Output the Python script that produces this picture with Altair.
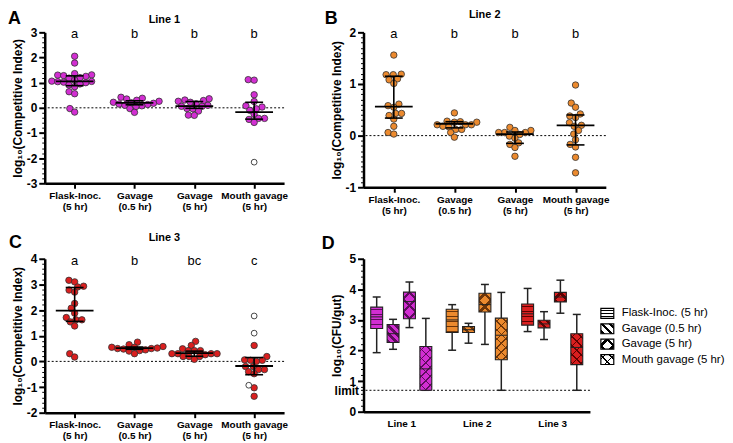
import json
import math
import altair as alt
import pandas as pd

FONT = "Liberation Sans"

# ---------------- data ----------------
cond_labels = ["Flask-Inoc.\n(5 hr)", "Gavage\n(0.5 hr)", "Gavage\n(5 hr)", "Mouth gavage\n(5 hr)"]
legend_labels = ["Flask-Inoc. (5 hr)", "Gavage (0.5 hr)", "Gavage (5 hr)", "Mouth gavage (5 hr)"]
line_labels = ["Line 1", "Line 2", "Line 3"]

# Panel A (Line 1)
a_flask = [2.05, 1.78, 1.36, 1.31, 1.30, 1.28, 1.25, 1.20, 1.18, 1.10, 1.06, 1.05, 1.04, 1.02, 1.00, 0.95, 0.91, 0.84, 0.64, 0.56, -0.03, -0.17]
a_gav05 = [0.42, 0.38, 0.35, 0.30, 0.26, 0.22, 0.20, 0.18, 0.15, 0.13, 0.10, 0.08, 0.05, -0.03, -0.18]
a_gav5 = [0.36, 0.31, 0.29, 0.26, 0.22, 0.16, 0.10, 0.06, 0.06, -0.03, -0.04, -0.13, -0.29, -0.30]
a_mouth = [1.12, 1.10, 0.52, 0.25, 0.08, 0.03, -0.04, -0.10, -0.26, -0.42, -0.42, -0.46, -0.58]
a_mouth_open = [-2.16]
a_med = [1.05, 0.20, 0.07, -0.17]
a_q1 = [0.88, 0.12, -0.02, -0.45]
a_q3 = [1.27, 0.28, 0.25, 0.22]
a_letters = ["a", "b", "b", "b"]

# Panel B (Line 2)
b_flask = [1.56, 1.19, 1.18, 1.18, 1.10, 1.08, 1.01, 0.61, 0.58, 0.55, 0.43, 0.43, 0.39, 0.32, 0.18, 0.06, 0.03]
b_gav05 = [0.44, 0.28, 0.27, 0.26, 0.26, 0.21, 0.21, 0.21, 0.18, 0.17, 0.12, 0.12, 0.06, -0.03]
b_gav5 = [0.16, 0.10, 0.10, 0.06, 0.06, 0.06, 0.02, -0.01, -0.05, -0.14, -0.17, -0.23, -0.40]
b_mouth = [0.98, 0.63, 0.55, 0.42, 0.38, 0.35, 0.25, 0.20, 0.18, 0.10, 0.03, -0.08, -0.17, -0.22, -0.42, -0.72]
b_med = [0.56, 0.23, 0.03, 0.20]
b_q1 = [0.34, 0.15, -0.15, -0.18]
b_q3 = [1.15, 0.27, 0.07, 0.40]
b_letters = ["a", "b", "b", "b"]

# Panel C (Line 3)
c_flask = [3.16, 3.10, 2.93, 2.90, 2.78, 2.70, 2.26, 2.07, 1.88, 1.71, 1.62, 1.62, 1.54, 1.38, 0.30, 0.17]
c_gav05 = [0.75, 0.65, 0.58, 0.55, 0.55, 0.52, 0.50, 0.50, 0.48, 0.45, 0.42, 0.40, 0.30]
c_gav5 = [0.78, 0.62, 0.49, 0.42, 0.42, 0.42, 0.30, 0.30, 0.30, 0.30, 0.26, 0.19, 0.19, 0.19, 0.08]
c_mouth = [0.62, 0.19, 0.06, 0.04, 0.04, 0.00, -0.20, -0.20, -0.32, -0.32, -0.40, -0.48, -1.03, -1.36]
c_mouth_open = [1.77, 1.10, -0.93]
c_med = [1.98, 0.52, 0.32, -0.18]
c_q1 = [1.56, 0.47, 0.20, -0.52]
c_q3 = [2.88, 0.56, 0.40, 0.15]
c_letters = ["a", "b", "bc", "c"]

# Panel D box plots: [min, q1, median, q3, max] per line x condition
d_line1 = [[1.93, 2.72, 3.10, 3.42, 3.75], [2.04, 2.26, 2.55, 2.85, 3.02],
           [2.75, 3.04, 3.60, 3.91, 4.24], [0.70, 0.70, 1.40, 2.13, 3.05]]
d_line2 = [[2.01, 2.59, 3.00, 3.35, 3.50], [2.24, 2.59, 2.68, 2.78, 2.89],
           [2.20, 3.26, 3.50, 3.87, 4.16], [0.70, 1.70, 2.50, 3.06, 3.90]]
d_line3 = [[2.62, 2.83, 3.20, 3.52, 4.03], [2.36, 2.74, 2.87, 2.99, 3.27],
           [3.22, 3.59, 3.75, 3.90, 4.30], [0.70, 1.54, 2.10, 2.55, 3.18]]
detection_limit = 0.7

# ---------------- styles ----------------
COLORS = ["#D22ED2", "#EC8A2E", "#DA1F1F"]
DARKS = ["#5E0C5E", "#6E3508", "#5E0000"]
DOT = 6.0          # dot spacing in px for the swarm (dots may overlap slightly)
MED_HALF = 19      # median bar half width px
CAP_HALF = 9       # error cap half width px
MINOR = "abs(datum.value - round(datum.value)) > 0.001"


def swarm(vals, ppu, d):
    order = sorted(range(len(vals)), key=lambda i: vals[i])
    placed, offs = [], [0.0] * len(vals)
    for i in order:
        y = vals[i] * ppu
        forb = []
        for px, py in placed:
            dy = abs(py - y)
            if dy < d:
                dx = math.sqrt(d * d - dy * dy)
                forb.append((px - dx, px + dx))
        cands = [0.0] + [a for a, _ in forb] + [b for _, b in forb]
        cands.sort(key=lambda c: (round(abs(c), 6), c))
        chosen = 0.0
        for c in cands:
            if all(not (a + 1e-6 < c < b - 1e-6) for a, b in forb):
                chosen = c
                break
        offs[i] = chosen
        placed.append((chosen, y))
    return offs


def tick_values(lo, hi, step, extra=()):
    n = int(round((hi - lo) / step))
    vals = [round(lo + i * step, 4) for i in range(n + 1)]
    return sorted(set(vals) | set(extra))


def y_axis(title, lo, hi, step, label_expr=None, extra=(), title_x=None):
    if label_expr is None:
        label_expr = f"{MINOR.replace('>', '<=')} ? '' + round(datum.value) : ''"
    kw = {}
    if title_x is not None:
        kw["titleX"] = title_x
    return alt.Axis(
        title=title, values=tick_values(lo, hi, step, extra), labelExpr=label_expr,
        tickSize={"condition": {"test": MINOR, "value": 3}, "value": 6},
        tickWidth={"condition": {"test": MINOR, "value": 1}, "value": 2},
        labelFontSize=12, titleFontSize=12, labelOverlap=False, labelFlush=False,
        titlePadding=2, labelPadding=2, **kw,
    )


def txt(text, x, y, size, weight="normal", align="center"):
    return alt.Chart(pd.DataFrame({"t": [text]})).mark_text(
        fontSize=size, fontWeight=weight, align=align, baseline="middle", color="black"
    ).encode(text="t:N", x=alt.value(x), y=alt.value(y))


def scatter_panel(groups, opens, med, q1, q3, letters, color, ydom, ystep, width, height,
                  title, title_y, plet, plet_xy):
    ppu_y = height / (ydom[1] - ydom[0])
    ppu_x = width / 4.0
    rows = []
    for i, (vals, ov) in enumerate(zip(groups, opens)):
        allv = list(vals) + list(ov)
        offs = swarm(allv, ppu_y, DOT)
        for j, v in enumerate(allv):
            rows.append({"idx": i, "x": i + offs[j] / ppu_x, "y": v, "open": j >= len(vals)})
    dfp = pd.DataFrame(rows)
    dfs = pd.DataFrame({"idx": list(range(4)), "med": med, "q1": q1, "q3": q3, "letter": letters})
    dfs["xl"] = dfs["idx"] - MED_HALF / ppu_x
    dfs["xr"] = dfs["idx"] + MED_HALF / ppu_x
    dfs["cl"] = dfs["idx"] - CAP_HALF / ppu_x
    dfs["cr"] = dfs["idx"] + CAP_HALF / ppu_x

    xs = alt.Scale(domain=[-0.5, 3.5], nice=False, zero=False)
    ys = alt.Scale(domain=ydom, nice=False, zero=False)
    cats = json.dumps([c.split("\n") for c in cond_labels])
    xa = alt.Axis(title=None, values=[0, 1, 2, 3], labelExpr=f"{cats}[round(datum.value)]",
                  tickSize=5, tickWidth=2, labelFontSize=10, labelLineHeight=11,
                  labelPadding=2, labelFlush=False, labelOverlap=False)
    ya = y_axis("log\u2081\u2080(Competitive Index)", ydom[0], ydom[1], ystep)

    def X(f):
        return alt.X(f, scale=xs, axis=xa)

    def Y(f):
        return alt.Y(f, scale=ys, axis=ya)

    zero = alt.Chart(pd.DataFrame({"z": [0.0]})).mark_rule(
        color="black", strokeDash=[2, 2], strokeWidth=1).encode(y=Y("z:Q"))
    filled = alt.Chart(dfp).transform_filter("!datum.open").mark_circle(
        size=42, color=color, stroke="#333333", strokeWidth=0.8, opacity=1
    ).encode(x=X("x:Q"), y=Y("y:Q"))
    hollow = alt.Chart(dfp).transform_filter("datum.open").mark_circle(
        size=34, fill="white", stroke="#333333", strokeWidth=0.9, opacity=1
    ).encode(x=X("x:Q"), y=Y("y:Q"))
    base = alt.Chart(dfs)
    med_r = base.mark_rule(color="black", strokeWidth=1.8).encode(
        x=X("xl:Q"), x2="xr:Q", y=Y("med:Q"))
    vert = base.mark_rule(color="black", strokeWidth=1.6).encode(
        x=X("idx:Q"), y=Y("q1:Q"), y2="q3:Q")
    cap1 = base.mark_rule(color="black", strokeWidth=1.6).encode(
        x=X("cl:Q"), x2="cr:Q", y=Y("q1:Q"))
    cap2 = base.mark_rule(color="black", strokeWidth=1.6).encode(
        x=X("cl:Q"), x2="cr:Q", y=Y("q3:Q"))
    lets = base.mark_text(fontSize=13, baseline="middle", color="black").encode(
        x=X("idx:Q"), y=alt.value(2), text="letter:N")
    return alt.layer(
        zero, filled, hollow, med_r, vert, cap1, cap2, lets,
        txt(title, width / 2, title_y, 11, "bold"),
        txt(plet, plet_xy[0], plet_xy[1], 18, "bold", "left"),
    ).properties(width=width, height=height)


# ----- pattern fills (linear gradients with hard stops) -----
def stripe_stops(bg, fg, period_t, width_t):
    stops = [{"offset": 0, "color": bg}]
    c = period_t * 0.5
    while c - width_t / 2 < 1:
        a = max(0.0, c - width_t / 2)
        b = min(1.0, c + width_t / 2)
        stops += [{"offset": round(a, 4), "color": bg}, {"offset": round(a, 4), "color": fg},
                  {"offset": round(b, 4), "color": fg}, {"offset": round(b, 4), "color": bg}]
        c += period_t
    stops.append({"offset": 1, "color": bg})
    return stops


def grad_h(bg, fg, w, h, period, lw):
    return {"gradient": "linear", "stops": stripe_stops(bg, fg, period / h, lw / h),
            "x1": 0, "y1": 0, "x2": 0, "y2": 1}


def grad_d(bg, fg, w, h, period, lw, direction):
    a = w / h
    s = (w + h) / (h * (1 + a * a))
    L = w + h
    if direction == "/":
        x1, y1, x2, y2 = 0, 0, a * s, s
    else:
        x1, y1, x2, y2 = 1, 0, 1 - a * s, s
    return {"gradient": "linear", "stops": stripe_stops(bg, fg, period / L, lw / L),
            "x1": round(x1, 4), "y1": y1, "x2": round(x2, 4), "y2": round(y2, 4)}


def pattern_fills(cond, bg, fg, w, h, legend=False):
    """Return list of fills (first = base, rest = transparent overlays)."""
    clear = "rgba(0,0,0,0)"
    if cond == 0:
        return [grad_h(bg, fg, w, h, 3.3 if legend else 5.0, 1.1 if legend else 1.4)]
    if cond == 1:
        return [grad_d(bg, fg, w, h, 8.0, 3.5, "\\")]
    if cond == 2:
        return [grad_d(bg, fg, w, h, 13.0, 3.6, "/"), grad_d(clear, fg, w, h, 13.0, 3.6, "\\")]
    return [grad_d(bg, fg, w, h, 9.0, 1.6, "/"), grad_d(clear, fg, w, h, 9.0, 1.6, "\\")]


def box_panel(lines, width, height):
    ydom = [0, 5]
    ppu_y = height / 5.0
    ppu_x = width / 3.0
    offs_px = [-24.75, -8.25, 8.25, 24.75]
    box_half, cap_half = 6.0, 4.0
    rows = []
    for g, stats in enumerate(lines):
        for c, (lo, q1, md, q3, hi) in enumerate(stats):
            xc = g + offs_px[c] / ppu_x
            rows.append({"g": g, "c": c, "lo": lo, "q1": q1, "med": md, "q3": q3, "hi": hi,
                         "xc": xc, "xl": xc - box_half / ppu_x, "xr": xc + box_half / ppu_x,
                         "cl": xc - cap_half / ppu_x, "cr": xc + cap_half / ppu_x})
    df = pd.DataFrame(rows)
    xs = alt.Scale(domain=[-0.5, 2.5], nice=False, zero=False)
    ys = alt.Scale(domain=ydom, nice=False, zero=False)
    labs = json.dumps(line_labels)
    xa = alt.Axis(title=None, values=[0, 1, 2], labelExpr=f"{labs}[round(datum.value)]",
                  ticks=False, labelFontSize=10, labelPadding=7, labelFlush=False)
    lim_expr = (f"abs(datum.value - {detection_limit}) < 0.001 ? 'limit' : "
                f"({MINOR.replace('>', '<=')} ? '' + round(datum.value) : '')")
    ya = y_axis("log\u2081\u2080(CFU/gut)", 0, 5, 0.2, lim_expr, extra=[detection_limit],
                title_x=-20)

    def X(f):
        return alt.X(f, scale=xs, axis=xa)

    def Y(f):
        return alt.Y(f, scale=ys, axis=ya)

    base = alt.Chart(df)
    layers = [
        alt.Chart(pd.DataFrame({"z": [detection_limit]})).mark_rule(
            color="black", strokeDash=[2, 2], strokeWidth=1).encode(y=Y("z:Q")),
        base.mark_rule(color="#222222", strokeWidth=1.5).encode(x=X("xc:Q"), y=Y("lo:Q"), y2="hi:Q"),
        base.mark_rule(color="#222222", strokeWidth=1.5).encode(x=X("cl:Q"), x2="cr:Q", y=Y("lo:Q")),
        base.mark_rule(color="#222222", strokeWidth=1.5).encode(x=X("cl:Q"), x2="cr:Q", y=Y("hi:Q")),
    ]
    for r in rows:
        w = 2 * box_half
        h = max(2.0, (r["q3"] - r["q1"]) * ppu_y)
        fills = pattern_fills(r["c"], COLORS[r["g"]], DARKS[r["g"]], w, h)
        flt = f"datum.g == {r['g']} && datum.c == {r['c']}"
        for k, f in enumerate(fills):
            layers.append(base.transform_filter(flt).mark_rect(
                fill=f, stroke="#222222" if k == len(fills) - 1 else None,
                strokeWidth=1.1).encode(x=X("xl:Q"), x2="xr:Q", y=Y("q1:Q"), y2="q3:Q"))
    layers.append(base.mark_rule(color="#222222", strokeWidth=1).encode(
        x=X("xl:Q"), x2="xr:Q", y=Y("med:Q")))
    layers.append(txt("D", -42, -15, 18, "bold", "left"))

    # legend (drawn to the right of the plot area)
    leg_x, leg_y0, leg_step = width + 11, 55.0, 15.5
    for c, lab in enumerate(legend_labels):
        yc = leg_y0 + c * leg_step
        fills = pattern_fills(c, "white", "black", 13.0, 10.0, legend=True)
        for k, f in enumerate(fills):
            layers.append(alt.Chart(pd.DataFrame({"t": [lab]})).mark_rect(
                fill=f, stroke="black" if k == len(fills) - 1 else None, strokeWidth=1.2
            ).encode(x=alt.value(leg_x), x2=alt.value(leg_x + 13),
                     y=alt.value(yc - 5), y2=alt.value(yc + 5)))
        layers.append(txt(lab, leg_x + 21, yc, 11.5, "normal", "left"))
    return alt.layer(*layers).properties(width=width, height=height)


A = scatter_panel([a_flask, a_gav05, a_gav5, a_mouth], [[], [], [], a_mouth_open],
                  a_med, a_q1, a_q3, a_letters, COLORS[0], [-3, 3], 0.2, 241, 152,
                  "Line 1", -12, "A", (-37, -13))
B = scatter_panel([b_flask, b_gav05, b_gav5, b_mouth], [[], [], [], []],
                  b_med, b_q1, b_q3, b_letters, COLORS[1], [-1, 2], 0.1, 244, 156,
                  "Line 2", -17, "B", (-39, -13))
C = scatter_panel([c_flask, c_gav05, c_gav5, c_mouth], [[], [], [], c_mouth_open],
                  c_med, c_q1, c_q3, c_letters, COLORS[2], [-2, 4], 0.2, 241, 155,
                  "Line 3", -21, "C", (-36, -16))
D = box_panel([d_line1, d_line2, d_line3], 228, 154)

chart = alt.concat(A, B, C, D, columns=2, spacing={"row": 72, "column": 80},
                   bounds="flush").properties(
    padding=0
).configure(font=FONT).configure_view(stroke=None).configure_axis(
    domainColor="black", domainWidth=2.5, tickColor="black", labelColor="black",
    titleColor="black", labelFontWeight="bold", titleFontWeight="bold", grid=False,
    labelFont=FONT, titleFont=FONT,
)

chart.save("out.html", embed_options={"renderer": "svg", "actions": False})
